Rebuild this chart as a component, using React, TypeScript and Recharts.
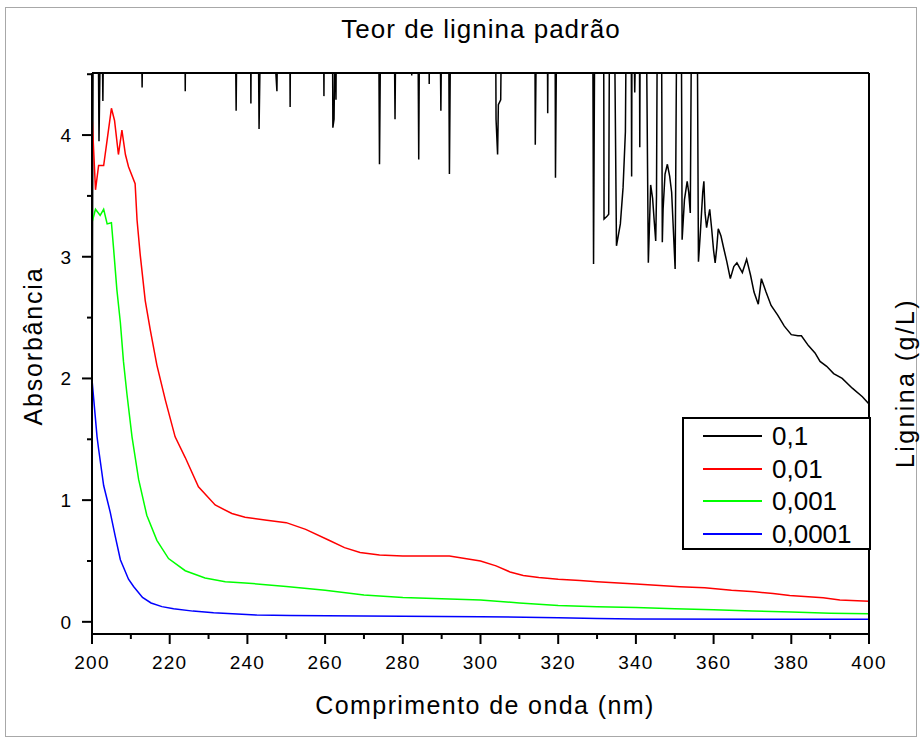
import React from 'react';
import { LineChart, Line, XAxis, YAxis, Legend } from 'recharts';

// wavelength (nm) / absorbance pairs, one list per concentration (g/L)
const conc01: [number, number][] = [
  [200, 1.7], [200.3, 4.9],
  [201.6, 4.9], [201.8, 3.95], [202.2, 4.9],
  [202.6, 4.9], [202.8, 4.28], [203.0, 4.9],
  [212.7, 4.9], [212.9, 4.39], [213.1, 4.9],
  [223.9, 4.9], [224.0, 4.36], [224.1, 4.9],
  [236.9, 4.9], [237.1, 4.2], [237.3, 4.9],
  [240.8, 4.9], [240.9, 4.26], [241.0, 4.9],
  [242.8, 4.9], [243.0, 4.05], [243.4, 4.9],
  [246.6, 4.9], [247.6, 4.36], [247.8, 4.9],
  [250.9, 4.9], [251.0, 4.23], [251.1, 4.9],
  [259.6, 4.9], [259.7, 4.32], [259.8, 4.9],
  [261.9, 4.9], [262.0, 4.06], [262.3, 4.13], [262.6, 4.9], [262.8, 4.29], [262.9, 4.9],
  [273.8, 4.9], [274.0, 3.76], [274.3, 4.9],
  [277.8, 4.9], [278.0, 4.13], [278.2, 4.9],
  [282.2, 4.9], [282.3, 4.49], [282.4, 4.9],
  [283.9, 4.9], [284.1, 3.8], [284.3, 4.9],
  [286.7, 4.9], [286.8, 4.42], [286.9, 4.9],
  [289.6, 4.9], [289.8, 4.2], [290.0, 4.9],
  [291.8, 4.9], [292.0, 3.68], [292.3, 4.9],
  [303.9, 4.9], [304.0, 4.13], [304.4, 3.84], [304.6, 4.25], [305.2, 4.29], [305.4, 4.9],
  [314.0, 4.9], [314.1, 3.92], [314.4, 4.9],
  [317.2, 4.9], [317.3, 4.18], [317.4, 4.9],
  [319.2, 4.9], [319.3, 3.65], [319.6, 4.9],
  [328.9, 4.9], [329.1, 2.94], [329.4, 4.9],
  [331.7, 4.9], [331.8, 3.31], [332.5, 3.33], [333.0, 3.35], [333.2, 4.9],
  [334.5, 4.9], [335.0, 3.09], [336.0, 3.27], [336.7, 3.57], [337.3, 4.03], [337.5, 4.9],
  [338.8, 4.9], [338.9, 3.66], [339.0, 4.9],
  [339.5, 4.9], [339.7, 4.35], [340.0, 4.9],
  [340.9, 4.9], [341.0, 3.9], [341.1, 4.9],
  [342.7, 4.9], [343.2, 2.95], [343.8, 3.59], [344.3, 3.48], [344.7, 3.3], [345.1, 3.13], [345.3, 3.5], [345.5, 4.9],
  [346.6, 4.9], [346.8, 3.12], [347.0, 3.39], [347.5, 3.68], [348.1, 3.76], [348.7, 3.66], [349.2, 3.53], [350.1, 2.9], [350.5, 4.9],
  [351.7, 4.9], [351.9, 3.14], [352.5, 3.47], [353.2, 3.62], [353.6, 3.53], [354.0, 3.36], [354.3, 4.9],
  [355.8, 4.9], [356.1, 2.96], [356.6, 3.2], [357.2, 3.53], [357.5, 3.62], [357.8, 3.36], [358.2, 3.24],
  [358.6, 3.32], [359.0, 3.39], [359.5, 3.23], [360.0, 3.05], [360.4, 2.95], [360.8, 3.07], [361.2, 3.23],
  [361.9, 3.17], [362.6, 3.07], [363.4, 2.96], [364.3, 2.82], [365.2, 2.92], [366.0, 2.95], [367.4, 2.87],
  [368.5, 2.98], [369.5, 2.85], [370.4, 2.71], [371.5, 2.61], [372.3, 2.82], [373.5, 2.71], [374.8, 2.6],
  [376.5, 2.52], [378.2, 2.43], [380.0, 2.36], [381.7, 2.35], [382.6, 2.35], [384.4, 2.27], [386.1, 2.21],
  [387.4, 2.14], [389.1, 2.1], [390.9, 2.04], [393.1, 2.0], [395.7, 1.92], [398.3, 1.85], [400, 1.79],
];

const conc001: [number, number][] = [
  [200, 4.17], [200.3, 3.96], [200.9, 3.55], [201.7, 3.75], [203.0, 3.75], [203.9, 3.96], [205.0, 4.22],
  [205.8, 4.12], [206.8, 3.84], [207.7, 4.04], [208.6, 3.84], [209.4, 3.74], [211.1, 3.6], [211.6, 3.3],
  [212.4, 3.02], [213.7, 2.64], [215.0, 2.4], [216.7, 2.11], [218.9, 1.82], [221.4, 1.52], [224.0, 1.35],
  [227.4, 1.11], [231.7, 0.96], [236.0, 0.89], [239.4, 0.86], [245, 0.835], [250, 0.815], [255, 0.76],
  [261, 0.67], [265, 0.61], [269, 0.57], [274, 0.55], [280, 0.54], [292, 0.54], [296, 0.52], [300, 0.5],
  [304, 0.46], [307.6, 0.41], [311, 0.38], [315, 0.365], [320, 0.35], [325.6, 0.34], [330, 0.33],
  [340, 0.31], [351.3, 0.288], [357.7, 0.28], [364.6, 0.26], [370.6, 0.247], [375.3, 0.233],
  [379.6, 0.216], [388.2, 0.197], [392.5, 0.18], [400, 0.17],
];

const conc0001: [number, number][] = [
  [200, 3.28], [200.9, 3.39], [202.1, 3.34], [203.0, 3.39], [203.9, 3.27], [205.0, 3.28], [205.6, 3.05],
  [206.4, 2.73], [207.3, 2.46], [208.1, 2.14], [209.0, 1.87], [210.3, 1.52], [212.0, 1.17], [214.1, 0.876],
  [216.7, 0.67], [219.7, 0.52], [224, 0.42], [229.1, 0.36], [234.3, 0.33], [239.4, 0.32], [250, 0.29],
  [260, 0.26], [270, 0.22], [280, 0.2], [290, 0.19], [300, 0.18], [310, 0.155], [320, 0.135], [330, 0.124],
  [340, 0.118], [350, 0.108], [360, 0.1], [370, 0.09], [380, 0.08], [390, 0.07], [400, 0.066],
];

const conc00001: [number, number][] = [
  [200, 1.99], [201.3, 1.52], [201.7, 1.42], [203.0, 1.12], [204.7, 0.9], [206.0, 0.7], [207.3, 0.51],
  [209.4, 0.35], [210.7, 0.29], [213.0, 0.2], [215.2, 0.155], [218, 0.125], [221, 0.107], [226, 0.088],
  [231.3, 0.074], [242.4, 0.056], [251, 0.052], [270, 0.048], [300, 0.042], [320, 0.034], [330, 0.027],
  [340, 0.023], [400, 0.021],
];

const seriesNames = ['0,1', '0,01', '0,001', '0,0001'];
const seriesColors = ['#000000', '#ff0000', '#00ff00', '#0000ff'];

const wavelengthTicks = [200, 210, 220, 230, 240, 250, 260, 270, 280, 290, 300, 310, 320, 330, 340, 350, 360, 370, 380, 390, 400];
const absorbanceTicks = [0, 0.5, 1, 1.5, 2, 2.5, 3, 3.5, 4, 4.5];
const ligninTicks = [0.5, 1, 1.5, 2, 2.5, 3, 3.5, 4, 4.5];

const FONT = '"Liberation Sans", Arial, sans-serif';

const toPoints = (rows: [number, number][]) => rows.map(([x, y]) => ({ x, y }));
const seriesData = [conc01, conc001, conc0001, conc00001].map(toPoints);

function BottomTick({ x, y, payload }: any) {
  const major = payload.value % 20 === 0;
  return (
    <g>
      <line x1={x} y1={y} x2={x} y2={y + (major ? 10 : 5)} stroke="#000" strokeWidth={2} />
      {major && (
        <text x={x} y={y + 35} textAnchor="middle" fontSize={19} fontFamily={FONT} letterSpacing={1.2} fill="#000">
          {payload.value}
        </text>
      )}
    </g>
  );
}

function TopTick({ x, y, payload }: any) {
  const major = payload.value % 20 === 0;
  return <line x1={x} y1={y} x2={x} y2={y - (major ? 10 : 5)} stroke="#000" strokeWidth={2} />;
}

function LeftTick({ x, y, payload }: any) {
  const major = Number.isInteger(payload.value);
  return (
    <g>
      <line x1={x} y1={y} x2={x - (major ? 10 : 5)} y2={y} stroke="#000" strokeWidth={2} />
      {major && (
        <text x={x - 21} y={y + 7} textAnchor="end" fontSize={19} fontFamily={FONT} fill="#000">
          {payload.value}
        </text>
      )}
    </g>
  );
}

function RightTick({ x, y, payload }: any) {
  const major = Number.isInteger(payload.value);
  return <line x1={x} y1={y} x2={x - (major ? 10 : 5)} y2={y} stroke="#000" strokeWidth={2} />;
}

function LegendBox({ payload }: any) {
  const rows = [...(payload || [])].sort(
    (a: any, b: any) => seriesNames.indexOf(a.value) - seriesNames.indexOf(b.value),
  );
  return (
    <div
      style={{
        boxSizing: 'border-box',
        width: 189,
        height: 133,
        border: '2px solid #000',
        background: '#fff',
        padding: '1px 0 0 0',
        fontFamily: FONT,
      }}
    >
      {rows.map((entry: any) => (
        <div key={entry.value} style={{ display: 'flex', alignItems: 'center', height: 32.5 }}>
          <div style={{ width: 59, height: 0, borderTop: `2px solid ${entry.color}`, marginLeft: 19, marginRight: 10 }} />
          <span style={{ fontSize: 26, lineHeight: '30px', color: '#000' }}>{entry.value}</span>
        </div>
      ))}
    </div>
  );
}

export default function App() {
  return (
    <div style={{ position: 'absolute', left: 0, top: 0, width: 921, height: 738, background: '#fff' }}>
      <div
        style={{
          position: 'absolute',
          left: 5,
          top: 7,
          width: 910,
          height: 728,
          border: '1px solid #a8a8a8',
        }}
      />
      <div style={{ position: 'absolute', left: 0, top: 0 }}>
        <LineChart width={921} height={738} margin={{ top: 0, right: 0, bottom: 0, left: 0 }}>
          <XAxis
            xAxisId="bottom"
            dataKey="x"
            type="number"
            domain={[200, 400]}
            ticks={wavelengthTicks}
            interval={0}
            height={104}
            tickSize={0}
            tickMargin={0}
            tickLine={false}
            axisLine={{ stroke: '#000', strokeWidth: 2 }}
            tick={(p: any) => <BottomTick {...p} />}
          />
          <XAxis
            xAxisId="top"
            orientation="top"
            dataKey="x"
            type="number"
            domain={[200, 400]}
            ticks={wavelengthTicks}
            interval={0}
            height={73}
            tickSize={0}
            tickMargin={0}
            tickLine={false}
            axisLine={{ stroke: '#000', strokeWidth: 2 }}
            tick={(p: any) => <TopTick {...p} />}
          />
          <YAxis
            yAxisId="left"
            type="number"
            domain={[-0.1, 4.51]}
            allowDataOverflow
            ticks={absorbanceTicks}
            interval={0}
            width={92}
            tickSize={0}
            tickMargin={0}
            tickLine={false}
            axisLine={{ stroke: '#000', strokeWidth: 2 }}
            tick={(p: any) => <LeftTick {...p} />}
          />
          <YAxis
            yAxisId="right"
            orientation="right"
            type="number"
            domain={[0, 5]}
            ticks={ligninTicks}
            interval={0}
            width={52}
            tickSize={0}
            tickMargin={0}
            tickLine={false}
            axisLine={{ stroke: '#000', strokeWidth: 2 }}
            tick={(p: any) => <RightTick {...p} />}
          />
          <Legend
            layout="horizontal"
            verticalAlign="middle"
            align="center"
            content={(p: any) => <LegendBox {...p} />}
            wrapperStyle={{ left: 682, top: 417, width: 189, height: 133 }}
          />
          {seriesData.map((d, i) => (
            <Line
              key={seriesNames[i]}
              data={d}
              dataKey="y"
              name={seriesNames[i]}
              xAxisId="bottom"
              yAxisId="left"
              type="linear"
              stroke={seriesColors[i]}
              strokeWidth={1.5}
              dot={false}
              activeDot={false}
              isAnimationActive={false}
            />
          ))}
        </LineChart>
      </div>
      <svg width={921} height={738} style={{ position: 'absolute', left: 0, top: 0, pointerEvents: 'none' }}>
        <text x={481} y={38} textAnchor="middle" fontSize={26} letterSpacing={1} fontFamily={FONT} fill="#000">
          Teor de lignina padrão
        </text>
        <text x={485} y={714} textAnchor="middle" fontSize={25} letterSpacing={1.4} fontFamily={FONT} fill="#000">
          Comprimento de onda (nm)
        </text>
        <text
          transform="translate(42 346) rotate(-90)"
          textAnchor="middle"
          fontSize={25}
          letterSpacing={1.8}
          fontFamily={FONT}
          fill="#000"
        >
          Absorbância
        </text>
        <text
          transform="translate(914 383) rotate(-90)"
          textAnchor="middle"
          fontSize={25}
          letterSpacing={2.4}
          fontFamily={FONT}
          fill="#000"
        >
          Lignina (g/L)
        </text>
      </svg>
    </div>
  );
}
